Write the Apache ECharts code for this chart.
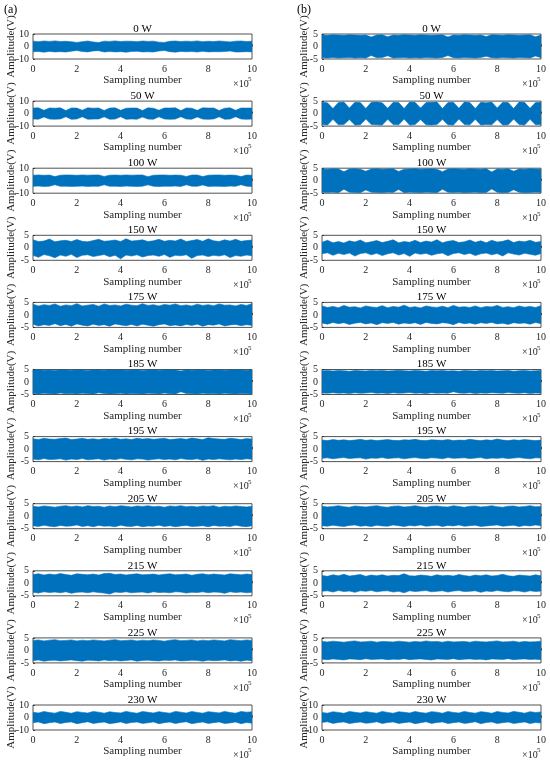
<!DOCTYPE html>
<html>
<head>
<meta charset="utf-8">
<script src="https://cdn.jsdelivr.net/npm/echarts@6/dist/echarts.min.js"></script>
<style>
  html, body { margin: 0; padding: 0; background: #fff; }
  #main { width: 550px; height: 762px; }
</style>
</head>
<body>
<div id="main"></div>
<script>
// panel titles (power levels), same for both columns
var powers = ['0 W', '50 W', '100 W', '150 W', '175 W', '185 W', '195 W', '205 W', '215 W', '225 W', '230 W'];
// y-axis half range of every panel
var leftRange = [10, 10, 10, 5, 5, 5, 5, 5, 5, 5, 10];
var rightRange = [5, 5, 5, 5, 5, 5, 5, 5, 5, 5, 10];
// sampling positions (x 10^5) where the signal envelope was read
var samplePos = ['0', '0.25', '0.5', '0.75', '1', '1.25', '1.5', '1.75', '2', '2.25', '2.5', '2.75', '3', '3.25', '3.5', '3.75',
  '4', '4.25', '4.5', '4.75', '5', '5.25', '5.5', '5.75', '6', '6.25', '6.5', '6.75', '7', '7.25', '7.5', '7.75',
  '8', '8.25', '8.5', '8.75', '9', '9.25', '9.5', '9.75', '10'];

// column (a): upper / lower envelope of the amplitude (V)
var leftUpper = [
  [4.3,3.9,4.4,4.1,4.5,4.0,4.2,3.8,3.3,3.9,4.4,3.6,3.2,4.3,4.1,4.5,4.0,4.3,4.2,3.9,4.4,4.1,4.3,3.5,3.3,4.2,4.4,4.0,4.3,4.1,4.5,3.9,4.2,4.0,4.4,4.1,3.7,4.3,4.4,4.0,4.2],
  [4.4,4.6,2.6,4.5,4.3,4.6,2.4,4.5,4.4,2.7,4.6,4.3,4.5,2.5,4.4,4.6,2.6,4.3,4.5,4.4,2.5,4.6,4.3,2.7,4.5,4.4,4.6,2.4,4.5,4.3,2.6,4.6,4.4,4.5,2.5,4.3,4.6,2.6,4.5,4.4,4.5],
  [4.4,4.6,4.3,4.5,3.3,4.4,4.6,4.5,4.3,4.6,4.4,4.5,4.6,3.4,4.4,4.5,4.3,4.6,4.4,4.5,4.6,3.2,4.4,4.5,4.6,4.3,4.5,4.4,3.4,4.5,4.6,3.3,4.4,4.5,4.6,4.3,4.5,4.4,3.3,4.5,4.4],
  [3.2,2.5,2.7,3.5,2.4,2.8,3.0,2.5,3.3,2.6,2.4,2.9,3.4,2.6,2.8,3.1,2.5,3.6,2.7,2.9,3.2,2.5,2.8,3.4,2.6,3.0,2.7,3.5,2.5,2.9,3.3,2.6,3.6,2.8,2.5,3.2,2.7,3.4,2.6,2.9,3.1],
  [4.3,3.6,4.1,3.8,4.4,3.5,4.0,3.7,4.5,3.6,3.9,4.2,3.5,4.4,3.8,4.0,3.6,4.3,3.9,3.7,4.5,3.8,4.1,3.6,4.2,3.9,4.4,3.7,4.0,3.6,4.3,3.8,4.1,3.7,4.4,3.9,4.0,3.6,4.2,3.8,4.5],
  [4.8,4.9,4.7,4.8,4.6,4.9,4.8,4.7,4.9,4.8,4.6,4.9,4.8,4.7,4.9,4.8,4.9,4.7,4.8,4.9,4.6,4.8,4.9,4.7,4.8,4.9,4.8,4.4,4.9,4.7,4.8,4.9,4.6,4.8,4.9,4.7,4.8,4.9,4.8,4.7,4.9],
  [4.1,3.8,4.3,4.0,3.9,4.2,4.4,3.8,4.0,4.3,3.9,4.1,3.8,4.2,4.0,4.4,3.9,4.1,3.8,4.3,4.0,4.2,3.9,4.1,4.3,3.8,4.0,4.2,3.9,4.4,4.1,3.8,4.5,4.2,4.0,3.9,4.3,4.1,3.8,4.2,4.0],
  [4.0,3.7,4.1,3.9,3.6,4.0,4.2,3.8,4.1,3.7,4.2,3.9,4.0,3.6,4.1,3.8,4.2,4.0,3.7,4.1,3.9,4.2,3.8,4.0,3.6,4.1,3.9,4.2,3.8,4.0,3.7,4.1,3.9,4.2,3.6,4.0,3.8,4.1,3.9,3.7,4.0],
  [3.5,3.8,3.3,3.7,3.4,3.9,3.5,3.2,3.8,3.6,3.4,3.7,3.3,3.9,4.0,3.5,3.7,3.3,3.6,3.8,3.4,3.5,3.7,3.3,3.6,3.8,3.4,3.5,3.7,3.2,3.6,3.8,3.4,3.7,3.5,3.3,3.8,3.6,3.4,3.7,3.5],
  [4.0,4.2,3.8,4.1,4.3,3.9,4.0,4.2,3.8,4.1,3.9,4.2,4.0,3.8,4.1,4.3,3.9,4.0,4.2,3.8,4.1,3.9,4.2,4.0,3.7,4.1,4.3,3.9,4.0,4.2,3.8,4.1,3.9,4.2,4.0,3.8,4.3,4.1,3.9,4.2,4.0],
  [4.2,3.6,4.8,4.0,3.5,4.9,4.2,3.4,4.7,4.1,3.6,4.8,4.3,3.5,4.6,4.0,3.7,4.9,4.1,3.4,4.8,4.2,3.6,4.7,4.0,3.5,4.9,4.3,3.6,4.8,4.1,3.5,4.7,4.2,3.7,4.9,4.0,3.5,4.8,4.3,4.6]
];
var leftLower = [
  [-4.2,-4.0,-4.5,-3.9,-4.3,-4.1,-4.4,-3.7,-3.2,-4.0,-4.3,-3.5,-3.3,-4.4,-4.0,-4.3,-4.1,-4.5,-4.0,-3.8,-4.3,-4.2,-4.4,-3.6,-3.2,-4.1,-4.5,-3.9,-4.2,-4.0,-4.4,-3.8,-4.3,-4.1,-4.2,-4.0,-3.6,-4.4,-4.3,-4.1,-4.3],
  [-4.3,-4.5,-2.7,-4.4,-4.5,-4.3,-2.5,-4.6,-4.3,-2.6,-4.5,-4.4,-4.3,-2.6,-4.5,-4.4,-2.5,-4.6,-4.3,-4.5,-2.7,-4.4,-4.5,-2.6,-4.3,-4.6,-4.4,-2.5,-4.3,-4.5,-2.7,-4.4,-4.6,-4.3,-2.6,-4.5,-4.4,-2.5,-4.3,-4.6,-4.4],
  [-4.5,-4.3,-4.6,-4.4,-3.2,-4.5,-4.4,-4.6,-4.5,-4.3,-4.6,-4.4,-4.5,-3.3,-4.5,-4.4,-4.6,-4.3,-4.5,-4.6,-4.4,-3.3,-4.5,-4.6,-4.4,-4.5,-4.3,-4.6,-3.3,-4.4,-4.5,-3.4,-4.6,-4.4,-4.5,-4.6,-4.3,-4.5,-3.2,-4.4,-4.6],
  [-3.0,-3.8,-2.7,-3.2,-4.0,-2.9,-3.4,-2.6,-3.9,-3.0,-2.8,-3.5,-3.1,-2.7,-3.6,-3.0,-4.4,-2.9,-3.3,-2.8,-3.7,-3.1,-2.9,-3.4,-2.7,-3.8,-3.0,-3.2,-2.8,-4.2,-3.1,-2.9,-3.5,-3.0,-3.3,-2.8,-3.9,-3.1,-3.4,-2.9,-3.2],
  [-3.7,-4.4,-3.9,-4.2,-3.5,-4.3,-3.8,-4.5,-3.6,-4.1,-4.4,-3.7,-4.2,-3.9,-4.5,-3.6,-4.0,-4.3,-3.8,-4.4,-3.7,-4.1,-4.5,-3.9,-3.6,-4.3,-4.0,-4.4,-3.8,-4.2,-3.7,-4.5,-3.9,-4.1,-3.6,-4.4,-4.0,-3.8,-4.3,-3.9,-4.2],
  [-4.6,-4.8,-4.5,-4.7,-4.8,-4.4,-4.7,-4.6,-4.8,-4.5,-4.7,-4.8,-4.3,-4.6,-4.8,-4.7,-4.5,-4.8,-4.6,-4.7,-4.8,-4.5,-4.6,-4.8,-4.4,-4.7,-4.8,-3.9,-4.6,-4.7,-4.8,-4.5,-4.7,-4.6,-4.8,-4.5,-4.7,-4.8,-4.6,-4.7,-4.8],
  [-4.0,-4.3,-3.8,-4.2,-4.1,-3.9,-4.4,-4.0,-4.2,-3.8,-4.3,-4.1,-3.9,-4.4,-4.0,-4.2,-3.8,-4.1,-4.3,-3.9,-4.0,-4.4,-4.1,-3.9,-4.2,-4.0,-4.3,-3.8,-4.1,-4.2,-3.9,-4.5,-4.0,-4.2,-3.9,-4.1,-4.3,-4.0,-4.2,-3.9,-4.1],
  [-3.8,-4.1,-3.6,-4.0,-4.2,-3.7,-4.0,-3.9,-3.5,-4.1,-3.8,-4.2,-3.7,-4.0,-3.9,-4.2,-3.6,-4.0,-4.1,-3.7,-4.2,-3.9,-4.0,-3.6,-4.1,-3.8,-4.2,-3.9,-3.7,-4.1,-4.0,-3.8,-4.2,-3.7,-4.0,-3.9,-4.1,-3.6,-4.0,-4.2,-3.8],
  [-3.6,-3.9,-3.4,-3.7,-3.5,-3.8,-3.4,-4.0,-3.6,-3.5,-3.8,-3.4,-3.7,-3.9,-4.3,-3.5,-3.7,-3.4,-3.8,-3.6,-3.5,-3.9,-3.4,-3.7,-3.6,-3.8,-3.4,-3.5,-3.9,-3.6,-3.7,-3.4,-3.8,-3.5,-3.6,-4.0,-3.4,-3.7,-3.5,-3.8,-3.6],
  [-4.1,-3.8,-4.3,-4.0,-3.9,-4.2,-4.0,-3.8,-4.1,-4.3,-3.9,-4.0,-4.2,-3.8,-4.1,-3.9,-4.2,-4.0,-3.8,-4.3,-4.0,-3.9,-4.1,-4.2,-3.9,-4.0,-3.8,-4.2,-4.1,-3.9,-4.0,-4.3,-3.9,-4.1,-4.0,-3.8,-4.2,-4.0,-4.3,-3.9,-4.1],
  [-4.1,-3.5,-4.9,-4.2,-3.6,-4.8,-4.0,-3.5,-4.9,-4.2,-3.4,-4.7,-4.1,-3.6,-4.9,-4.3,-3.5,-4.8,-4.0,-3.6,-4.7,-4.2,-3.5,-4.9,-4.1,-3.6,-4.8,-4.0,-3.4,-4.9,-4.2,-3.6,-4.7,-4.1,-3.5,-4.8,-4.3,-3.6,-4.9,-4.0,-4.5]
];
// column (b): upper / lower envelope of the amplitude (V)
var rightUpper = [
  [4.6,4.5,4.7,4.6,4.5,4.7,4.6,4.5,4.6,3.8,4.6,4.7,3.9,4.6,4.5,4.7,4.6,4.5,4.7,4.6,4.5,4.6,4.7,3.8,4.6,4.5,4.7,4.6,4.5,4.6,4.0,4.7,4.6,4.5,4.7,4.6,4.5,4.6,4.7,3.9,4.6],
  [4.5,4.3,2.0,4.4,4.6,2.2,4.5,4.4,2.0,4.5,4.6,4.3,2.1,4.5,4.4,2.0,4.6,4.5,2.2,4.4,4.5,4.6,2.0,4.4,4.5,2.1,4.6,4.4,2.0,4.5,4.3,4.6,2.2,4.5,4.4,2.0,4.6,4.5,2.1,4.4,4.5],
  [4.7,4.6,4.8,4.7,3.6,4.7,4.8,4.6,3.8,4.7,4.8,4.6,4.7,4.8,3.7,4.6,4.7,4.8,4.6,4.7,4.8,4.6,3.6,4.7,4.8,4.7,4.6,4.8,4.7,4.6,4.8,3.5,4.7,4.6,4.8,3.8,4.7,4.6,4.8,4.7,4.6],
  [2.2,3.0,2.0,2.5,1.9,2.8,2.3,3.1,2.0,2.4,2.9,2.1,2.6,3.2,2.0,2.5,2.2,3.0,2.1,2.7,2.3,3.2,2.0,2.6,2.9,2.1,2.4,3.1,2.2,2.8,2.0,3.0,2.3,2.6,3.2,2.1,2.7,2.4,3.0,2.2,2.5],
  [3.6,3.0,3.4,2.9,3.8,3.1,3.3,2.8,3.6,3.2,3.0,3.7,2.9,3.4,3.1,3.9,3.0,3.3,2.8,3.6,3.2,3.0,3.5,2.9,3.8,3.1,3.3,3.0,3.6,2.9,3.4,3.2,3.8,3.0,3.3,2.9,3.6,3.1,3.4,3.0,3.7],
  [4.5,4.6,4.4,4.6,4.5,4.3,4.6,4.5,4.4,4.6,4.5,4.6,4.4,4.5,4.7,4.5,4.4,4.6,4.5,4.3,4.6,4.5,4.6,4.4,4.5,4.3,4.6,4.5,4.4,4.6,4.5,4.6,4.4,4.5,4.6,4.3,4.5,4.6,4.4,4.5,4.6],
  [3.6,3.4,3.8,3.5,3.7,3.4,3.6,3.9,3.5,3.7,3.4,3.6,3.8,3.5,3.4,3.7,3.6,3.9,3.5,3.4,3.7,3.6,3.5,3.8,3.4,3.6,3.5,3.9,3.6,3.4,3.7,3.5,4.0,3.6,3.4,3.7,3.5,3.8,3.6,3.4,3.6],
  [4.0,3.7,3.9,4.2,3.8,3.6,4.1,3.9,3.7,4.0,4.2,3.8,3.6,4.0,4.1,3.7,3.9,4.2,3.8,3.6,4.0,4.1,3.8,3.7,4.2,3.9,3.6,4.0,4.1,3.7,3.9,4.2,3.8,3.6,4.0,4.1,3.7,3.9,4.2,3.8,3.9],
  [3.1,2.8,3.4,3.0,3.6,2.9,3.2,3.5,2.8,3.3,3.0,3.4,2.9,3.2,3.1,3.8,3.0,2.9,3.3,3.1,2.8,3.4,3.0,3.2,2.9,3.5,3.1,2.8,3.3,3.0,3.4,2.9,3.1,3.6,3.0,2.8,3.3,3.1,2.9,3.4,3.0],
  [3.6,3.4,3.7,3.5,3.3,3.6,3.8,3.4,3.5,3.7,3.3,3.6,3.5,3.4,3.7,3.5,3.3,3.6,3.4,3.8,3.5,3.6,3.3,3.7,3.4,3.5,3.6,3.3,3.7,3.5,3.4,3.6,3.8,3.4,3.5,3.7,3.3,3.6,3.4,3.5,3.7],
  [4.0,3.5,4.6,4.1,3.4,4.8,4.2,3.6,4.7,4.0,3.5,4.9,4.1,3.4,4.6,4.2,3.6,4.8,4.0,3.5,4.7,4.3,3.4,4.8,4.1,3.6,4.9,4.0,3.5,4.7,4.2,3.4,4.8,4.1,3.6,4.9,4.2,3.5,4.7,4.0,4.5]
];
var rightLower = [
  [-4.5,-4.6,-4.4,-4.6,-4.5,-4.4,-4.6,-4.5,-4.6,-3.6,-4.5,-4.4,-3.7,-4.6,-4.5,-4.4,-4.6,-4.5,-4.6,-4.4,-4.5,-4.6,-4.4,-3.6,-4.5,-4.6,-4.4,-4.5,-4.6,-4.4,-3.9,-4.5,-4.6,-4.4,-4.5,-4.6,-4.4,-4.5,-4.6,-3.8,-4.5],
  [-4.4,-4.6,-2.3,-4.5,-4.4,-2.4,-4.6,-4.5,-2.2,-4.4,-4.5,-4.6,-2.3,-4.4,-4.5,-2.2,-4.6,-4.4,-2.4,-4.5,-4.6,-4.4,-2.3,-4.5,-4.6,-2.2,-4.4,-4.5,-2.3,-4.6,-4.4,-4.5,-2.4,-4.6,-4.5,-2.2,-4.4,-4.6,-2.3,-4.5,-4.4],
  [-4.6,-4.7,-4.6,-4.8,-3.4,-4.6,-4.7,-4.8,-3.7,-4.6,-4.7,-4.8,-4.6,-4.7,-3.5,-4.8,-4.6,-4.7,-4.8,-4.6,-4.7,-4.8,-3.4,-4.6,-4.7,-4.6,-4.8,-4.7,-4.6,-4.8,-4.7,-3.3,-4.6,-4.8,-4.7,-3.6,-4.6,-4.8,-4.7,-4.6,-4.7],
  [-2.4,-2.0,-3.0,-2.2,-2.7,-2.1,-3.3,-2.3,-2.0,-2.8,-2.2,-3.1,-2.4,-2.0,-2.9,-2.3,-3.4,-2.1,-2.6,-2.2,-3.0,-2.4,-2.1,-3.2,-2.3,-2.0,-2.7,-2.2,-3.1,-2.4,-2.1,-2.8,-2.3,-3.3,-2.0,-2.5,-2.9,-2.2,-2.6,-3.0,-2.3],
  [-3.2,-3.7,-3.0,-3.5,-3.1,-3.8,-3.3,-3.0,-3.6,-3.2,-3.9,-3.1,-3.4,-3.0,-3.7,-3.2,-3.5,-3.1,-3.8,-3.0,-3.4,-3.6,-3.1,-3.3,-3.9,-3.0,-3.5,-3.2,-3.7,-3.1,-3.4,-3.0,-3.6,-3.3,-3.8,-3.1,-3.4,-3.2,-3.7,-3.0,-3.5],
  [-4.4,-4.5,-4.3,-4.5,-4.4,-4.6,-4.3,-4.5,-4.4,-4.2,-4.5,-4.4,-4.6,-4.3,-4.5,-4.4,-4.2,-4.5,-4.4,-4.6,-4.3,-4.5,-4.4,-4.5,-3.9,-4.4,-4.5,-4.3,-4.6,-4.4,-4.5,-4.3,-4.4,-4.5,-4.2,-4.4,-4.5,-4.3,-4.6,-4.4,-4.5],
  [-3.7,-3.5,-3.9,-3.6,-3.4,-3.8,-3.6,-3.5,-4.0,-3.6,-3.7,-3.4,-3.8,-3.6,-3.5,-3.9,-3.6,-3.4,-3.7,-3.8,-3.5,-3.6,-3.9,-3.4,-3.7,-3.6,-3.5,-3.8,-3.6,-3.4,-3.9,-3.6,-3.7,-3.5,-3.8,-3.6,-3.4,-3.7,-3.9,-3.5,-3.6],
  [-3.8,-4.0,-3.6,-3.9,-4.1,-3.7,-3.5,-4.0,-3.8,-4.1,-3.6,-3.9,-4.0,-3.5,-3.8,-4.1,-3.7,-3.9,-3.5,-4.0,-3.8,-3.6,-4.1,-3.7,-3.9,-3.5,-4.0,-3.8,-3.6,-4.1,-3.9,-3.7,-3.5,-4.0,-3.8,-3.6,-4.1,-3.7,-3.9,-3.5,-3.8],
  [-3.2,-3.0,-3.5,-2.9,-3.3,-3.1,-3.6,-3.0,-3.2,-2.9,-3.4,-3.1,-3.0,-3.5,-3.2,-3.8,-3.0,-3.3,-3.1,-2.9,-3.4,-3.2,-3.0,-3.5,-3.1,-2.9,-3.3,-3.2,-3.0,-3.6,-3.1,-3.3,-2.9,-3.2,-3.4,-3.0,-3.1,-3.5,-3.0,-3.3,-3.1],
  [-3.5,-3.7,-3.4,-3.6,-3.8,-3.4,-3.5,-3.7,-3.3,-3.6,-3.5,-3.4,-3.7,-3.5,-3.6,-3.3,-3.7,-3.5,-3.4,-3.6,-3.8,-3.4,-3.5,-3.6,-3.3,-3.7,-3.5,-3.4,-3.6,-3.5,-3.8,-3.4,-3.5,-3.6,-3.3,-3.7,-3.5,-3.4,-3.6,-3.5,-3.7],
  [-3.9,-3.4,-4.7,-4.0,-3.5,-4.8,-4.1,-3.6,-4.6,-4.2,-3.4,-4.8,-4.0,-3.5,-4.7,-4.1,-3.6,-4.9,-4.2,-3.4,-4.7,-4.0,-3.5,-4.8,-4.1,-3.6,-4.7,-4.2,-3.4,-4.9,-4.0,-3.5,-4.8,-4.1,-3.6,-4.7,-4.2,-3.5,-4.8,-4.0,-4.4]
];

(function () {
	var FONT = '"Liberation Serif", "Times New Roman", serif';
	var BLUE = '#0072BD';
	var INK = '#262626';
	var colLeft = [33, 322];     // grid left edge of column (a) / (b)
	var plotW = 219, plotH = 25;
	var rowTop0 = 34, rowStep = 67.1;

	var grids = [], xAxes = [], yAxes = [], series = [], graphics = [];

	graphics.push({type: 'text', x: 4, y: 4, style: {text: '(a)', font: '12px ' + FONT, fill: '#000'}});
	graphics.push({type: 'text', x: 297, y: 4, style: {text: '(b)', font: '12px ' + FONT, fill: '#000'}});

	for (var c = 0; c < 2; c++) {
		var upperSet = c === 0 ? leftUpper : rightUpper;
		var lowerSet = c === 0 ? leftLower : rightLower;
		var ranges = c === 0 ? leftRange : rightRange;
		for (var r = 0; r < powers.length; r++) {
			var idx = c * powers.length + r;
			var gTop = rowTop0 + r * rowStep;
			var gLeft = colLeft[c];
			grids.push({
				left: gLeft, top: gTop, width: plotW, height: plotH,
				show: true, borderColor: INK, borderWidth: 0.8, backgroundColor: 'transparent'
			});
			xAxes.push({
				gridIndex: idx, type: 'category', data: samplePos, boundaryGap: false,
				axisLine: {show: false},
				axisTick: {show: true, inside: true, length: 2, interval: 7, lineStyle: {color: INK, width: 0.8}},
				splitLine: {show: false},
				axisLabel: {color: INK, fontSize: 10, fontFamily: FONT, margin: 5, interval: 7},
				name: 'Sampling number', nameLocation: 'middle', nameGap: 16, nameMoveOverlap: false,
				nameTextStyle: {color: INK, fontSize: 11, fontFamily: FONT}
			});
			var R = ranges[r];
			yAxes.push({
				gridIndex: idx, type: 'value', min: -R, max: R, interval: R,
				axisLine: {show: false},
				axisTick: {show: true, inside: true, length: 2, lineStyle: {color: INK, width: 0.8}},
				splitLine: {show: false},
				axisLabel: {color: INK, fontSize: 10, fontFamily: FONT, margin: 4},
				name: 'Amplitude(V)', nameLocation: 'middle', nameRotate: 90,
				nameGap: c === 0 ? 16 : 12, nameMoveOverlap: false,
				nameTextStyle: {color: INK, fontSize: 11, fontFamily: FONT}
			});

			var band = [];
			for (var i = 0; i < samplePos.length; i++) {
				band.push(upperSet[r][i] - lowerSet[r][i]);
			}
			series.push({
				type: 'line', xAxisIndex: idx, yAxisIndex: idx, data: lowerSet[r],
				stack: 'sig' + idx, stackStrategy: 'all',
				symbol: 'none', silent: true, animation: false,
				lineStyle: {color: BLUE, width: 0.6}
			});
			series.push({
				type: 'line', xAxisIndex: idx, yAxisIndex: idx, data: band,
				stack: 'sig' + idx, stackStrategy: 'all',
				symbol: 'none', silent: true, animation: false,
				lineStyle: {color: BLUE, width: 0.6},
				areaStyle: {color: BLUE, opacity: 1}
			});

			// panel title
			graphics.push({
				type: 'text', x: gLeft + plotW / 2, y: gTop - 5,
				style: {text: powers[r], font: '11px ' + FONT, fill: '#000',
					textAlign: 'center', textVerticalAlign: 'middle', align: 'center', verticalAlign: 'middle'}
			});
			// x10^5 exponent
			graphics.push({
				type: 'text', x: gLeft + plotW - 19, y: gTop + plotH + 20,
				style: {text: '\u00d710', font: '10px ' + FONT, fill: INK}
			});
			graphics.push({
				type: 'text', x: gLeft + plotW - 4, y: gTop + plotH + 17,
				style: {text: '5', font: '7px ' + FONT, fill: INK}
			});
		}
	}

	var myChart = echarts.init(document.getElementById('main'));
	myChart.setOption({
		backgroundColor: '#ffffff',
		animation: false,
		grid: grids,
		xAxis: xAxes,
		yAxis: yAxes,
		series: series,
		graphic: graphics
	}, true);
})();
</script>
</body>
</html>
